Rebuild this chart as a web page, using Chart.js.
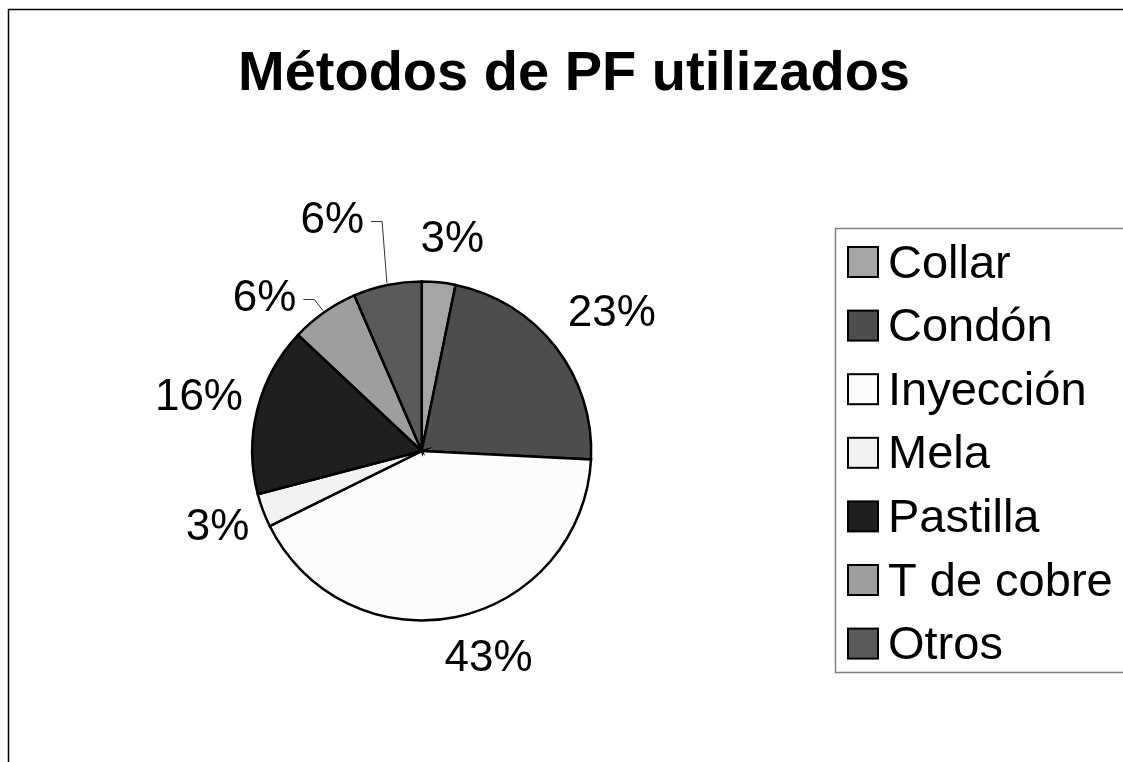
<!DOCTYPE html>
<html>
<head>
<meta charset="utf-8">
<script src="https://cdn.jsdelivr.net/npm/chart.js@4/dist/chart.umd.min.js"></script>
<style>
  html, body { margin: 0; padding: 0; background: #ffffff; }
  #wrap { width: 1123px; height: 762px; position: relative; }
</style>
</head>
<body>
<div id="wrap"><canvas id="c" width="1123" height="762"></canvas></div>
<script>
// ---- data ----
const chartTitle = 'Métodos de PF utilizados';
const categories = ['Collar', 'Condón', 'Inyección', 'Mela', 'Pastilla', 'T de cobre', 'Otros'];
// slice shares (percent) as measured from the slice angles
const shares = [3.2, 22.6, 41.9, 3.2, 16.1, 6.5, 6.5];
// percentage labels as printed on the chart
const percentLabels = ['3%', '23%', '43%', '3%', '16%', '6%', '6%'];

// ---- styles ----
const sliceColors = ['#a5a5a5', '#4d4d4d', '#fcfcfc', '#f2f2f2', '#1f1f1f', '#9e9e9e', '#5a5a5a'];
const FONT = '"Liberation Sans", Arial, Helvetica, sans-serif';
// label placement: [angle shift from slice middle (deg), distance beyond the rim (px)]
const labelPlacement = [[2.5, 43.5], [2.0, 65], [-6.1, 49], [0, 48.5], [-0.8, 59.5], [-10.9, 49], [-9.5, 77.7]];
const leaderLines = [false, false, false, false, false, true, true];

const decorPlugin = {
  id: 'decor',
  beforeDraw(chart) {
    const ctx = chart.ctx;
    ctx.save();
    ctx.fillStyle = '#ffffff';
    ctx.fillRect(0, 0, chart.width, chart.height);
    ctx.restore();
  },
  afterDraw(chart) {
    const ctx = chart.ctx;
    ctx.save();
    // outer frame
    ctx.strokeStyle = '#000000';
    ctx.lineWidth = 1.5;
    ctx.beginPath();
    ctx.moveTo(8.5, chart.height + 5);
    ctx.lineTo(8.5, 9.5);
    ctx.lineTo(chart.width + 5, 9.5);
    ctx.stroke();

    // title
    ctx.fillStyle = '#000000';
    ctx.font = 'bold 56px ' + FONT;
    ctx.textAlign = 'center';
    ctx.textBaseline = 'alphabetic';
    ctx.fillText(chartTitle, 574, 90);

    // percentage labels
    const meta = chart.getDatasetMeta(0);
    ctx.font = '44px ' + FONT;
    ctx.textAlign = 'center';
    ctx.textBaseline = 'middle';
    meta.data.forEach((arc, i) => {
      const p = arc.getProps(['x', 'y', 'startAngle', 'endAngle', 'outerRadius'], true);
      const mid = (p.startAngle + p.endAngle) / 2;
      const a = mid + labelPlacement[i][0] * Math.PI / 180;
      const r = p.outerRadius + labelPlacement[i][1];
      const lx = p.x + r * Math.cos(a);
      const ly = p.y + r * Math.sin(a);
      ctx.fillStyle = '#000000';
      ctx.fillText(percentLabels[i], lx, ly);
      if (leaderLines[i]) {
        const w = ctx.measureText(percentLabels[i]).width;
        const sx = lx + w / 2 + 7;
        const ex = p.x + (p.outerRadius + 2) * Math.cos(mid);
        const ey = p.y + (p.outerRadius + 2) * Math.sin(mid);
        ctx.strokeStyle = '#333333';
        ctx.lineWidth = 1;
        ctx.beginPath();
        ctx.moveTo(sx, Math.round(ly) + 0.5);
        ctx.lineTo(sx + 11, Math.round(ly) + 0.5);
        ctx.lineTo(ex, ey);
        ctx.stroke();
      }
    });

    // legend
    const boxL = 835.5, boxT = 228.5, boxB = 672.5;
    ctx.strokeStyle = '#808080';
    ctx.lineWidth = 1.5;
    ctx.beginPath();
    ctx.moveTo(chart.width + 5, boxT);
    ctx.lineTo(boxL, boxT);
    ctx.lineTo(boxL, boxB);
    ctx.lineTo(chart.width + 5, boxB);
    ctx.stroke();

    const step = 63.6;
    ctx.font = '47px ' + FONT;
    ctx.textAlign = 'left';
    ctx.textBaseline = 'alphabetic';
    categories.forEach((name, i) => {
      const y0 = 247 + i * step;
      ctx.fillStyle = sliceColors[i];
      ctx.fillRect(848, y0, 30, 30);
      ctx.strokeStyle = '#000000';
      ctx.lineWidth = 2;
      ctx.strokeRect(848, y0, 30, 30);
      ctx.fillStyle = '#000000';
      ctx.fillText(name, 888, y0 + 30.5);
    });
    ctx.restore();
  }
};

new Chart(document.getElementById('c'), {
  type: 'pie',
  data: {
    labels: categories,
    datasets: [{
      data: shares,
      backgroundColor: sliceColors,
      borderColor: '#000000',
      borderWidth: 2.5,
      borderJoinStyle: 'miter'
    }]
  },
  options: {
    responsive: false,
    animation: false,
    devicePixelRatio: 1,
    radius: 169.5,
    layout: { padding: { left: 251.7, right: 531.3, top: 281, bottom: 141 } },
    plugins: {
      legend: { display: false },
      title: { display: false },
      tooltip: { enabled: false }
    }
  },
  plugins: [decorPlugin]
});
</script>
</body>
</html>
